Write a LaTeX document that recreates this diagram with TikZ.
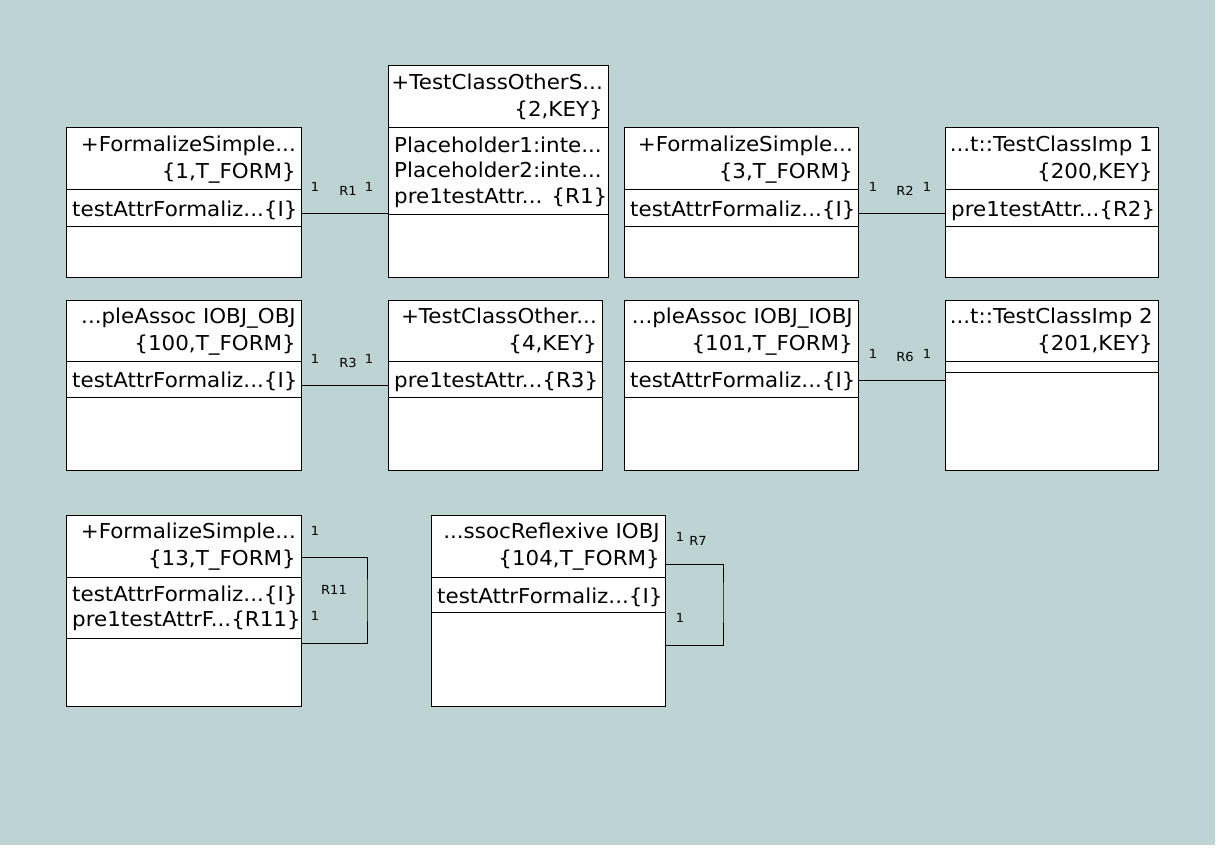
\documentclass[tikz,border=0pt]{standalone}
\usepackage{fontspec}
\setmainfont{DejaVu Sans}[FakeStretch=1.045]
\definecolor{bgteal}{RGB}{190,211,211}
\tikzstyle{cbox} = [draw, fill=white, line width=1pt, anchor=north west, inner sep=0pt, outer sep=0pt]
\tikzstyle{htext} = [anchor=north east, inner sep=0pt, xshift=-5pt, yshift=-7.95pt, align=right, font=\fontsize{20.5}{26.5}\selectfont, execute at begin node=\strut]
\tikzstyle{atext} = [anchor=north west, inner sep=0pt, xshift=6pt, yshift=-8.35pt, align=left, font=\fontsize{20.5}{25.5}\selectfont, execute at begin node=\strut]
\tikzstyle{mult} = [inner sep=0pt, font=\fontsize{12.5}{14}\selectfont]
\tikzstyle{assoc} = [line width=1pt]

\begin{document}
\begin{tikzpicture}[x=1pt, y=-1pt]
  \useasboundingbox (0,0) rectangle (1231,861);
  \fill[white] (0,0) rectangle (1231,861);
  \fill[bgteal] (0,0) rectangle (1215,845);

  % row 1
  \node[cbox, minimum width=235, minimum height=62] (c1h) at (66,128) {};
  \node[cbox, minimum width=235, minimum height=36] (c1a) at (c1h.south west) {};
  \node[cbox, minimum width=235, minimum height=51] (c1o) at (c1a.south west) {};
  \node[htext] (c1n) at (c1h.north east) {+FormalizeSimple...\\\{1,T\_FORM\}};
  \node[atext] (c1t) at (c1a.north west) {testAttrFormaliz...\{I\}};

  \node[cbox, minimum width=220, minimum height=62] (c2h) at (388,66) {};
  \node[cbox, minimum width=220, minimum height=87] (c2a) at (c2h.south west) {};
  \node[cbox, minimum width=220, minimum height=62] (c2o) at (c2a.south west) {};
  \node[htext] (c2n) at (c2h.north east) {+TestClassOtherS...\\\{2,KEY\}};
  \node[atext] (c2t) at (c2a.north west) {Placeholder1:inte...\\Placeholder2:inte...\\pre1testAttr... \{R1\}};

  \node[cbox, minimum width=234, minimum height=62] (c3h) at (624,128) {};
  \node[cbox, minimum width=234, minimum height=36] (c3a) at (c3h.south west) {};
  \node[cbox, minimum width=234, minimum height=51] (c3o) at (c3a.south west) {};
  \node[htext] (c3n) at (c3h.north east) {+FormalizeSimple...\\\{3,T\_FORM\}};
  \node[atext] (c3t) at (c3a.north west) {testAttrFormaliz...\{I\}};

  \node[cbox, minimum width=213, minimum height=62] (c4h) at (945,128) {};
  \node[cbox, minimum width=213, minimum height=36] (c4a) at (c4h.south west) {};
  \node[cbox, minimum width=213, minimum height=51] (c4o) at (c4a.south west) {};
  \node[htext] (c4n) at (c4h.north east) {...t::TestClassImp 1\\\{200,KEY\}};
  \node[atext] (c4t) at (c4a.north west) {pre1testAttr...\{R2\}};

  % row 2
  \node[cbox, minimum width=235, minimum height=61] (c5h) at (66,300) {};
  \node[cbox, minimum width=235, minimum height=36] (c5a) at (c5h.south west) {};
  \node[cbox, minimum width=235, minimum height=73] (c5o) at (c5a.south west) {};
  \node[htext] (c5n) at (c5h.north east) {...pleAssoc IOBJ\_OBJ\\\{100,T\_FORM\}};
  \node[atext] (c5t) at (c5a.north west) {testAttrFormaliz...\{I\}};

  \node[cbox, minimum width=214, minimum height=61] (c6h) at (388,300) {};
  \node[cbox, minimum width=214, minimum height=36] (c6a) at (c6h.south west) {};
  \node[cbox, minimum width=214, minimum height=73] (c6o) at (c6a.south west) {};
  \node[htext] (c6n) at (c6h.north east) {+TestClassOther...\\\{4,KEY\}};
  \node[atext] (c6t) at (c6a.north west) {pre1testAttr...\{R3\}};

  \node[cbox, minimum width=234, minimum height=61] (c7h) at (624,300) {};
  \node[cbox, minimum width=234, minimum height=36] (c7a) at (c7h.south west) {};
  \node[cbox, minimum width=234, minimum height=73] (c7o) at (c7a.south west) {};
  \node[htext] (c7n) at (c7h.north east) {...pleAssoc IOBJ\_IOBJ\\\{101,T\_FORM\}};
  \node[atext] (c7t) at (c7a.north west) {testAttrFormaliz...\{I\}};

  \node[cbox, minimum width=213, minimum height=61] (c8h) at (945,300) {};
  \node[cbox, minimum width=213, minimum height=11] (c8a) at (c8h.south west) {};
  \node[cbox, minimum width=213, minimum height=98] (c8o) at (c8a.south west) {};
  \node[htext] (c8n) at (c8h.north east) {...t::TestClassImp 2\\\{201,KEY\}};

  % row 3
  \node[cbox, minimum width=235, minimum height=62] (c9h) at (66,515) {};
  \node[cbox, minimum width=235, minimum height=61] (c9a) at (c9h.south west) {};
  \node[cbox, minimum width=235, minimum height=68] (c9o) at (c9a.south west) {};
  \node[htext] (c9n) at (c9h.north east) {+FormalizeSimple...\\\{13,T\_FORM\}};
  \node[atext] (c9t) at (c9a.north west) {testAttrFormaliz...\{I\}\\pre1testAttrF...\{R11\}};

  \node[cbox, minimum width=234, minimum height=62] (c10h) at (431,515) {};
  \node[cbox, minimum width=234, minimum height=35] (c10a) at (c10h.south west) {};
  \node[cbox, minimum width=234, minimum height=94] (c10o) at (c10a.south west) {};
  \node[htext] (c10n) at (c10h.north east) {...ssocReflexive IOBJ\\\{104,T\_FORM\}};
  \node[atext] (c10t) at (c10a.north west) {testAttrFormaliz...\{I\}};

  % associations
  \draw[assoc] ([yshift=-6pt]c1a.east) -- ([yshift=-6pt]c1a.east -| c2a.west);
  \draw[assoc] ([yshift=-6pt]c3a.east) -- ([yshift=-6pt]c3a.east -| c4a.west);
  \draw[assoc] ([yshift=-6pt]c5a.east) -- ([yshift=-6pt]c5a.east -| c6a.west);
  \draw[assoc] ([yshift=-1pt]c7a.east) -- ([yshift=-1pt]c7a.east -| c8h.west);
  \coordinate (r11c) at (367,600);
  \draw[assoc] ([yshift=-11pt]c9h.east) -| (r11c) |- ([yshift=-5pt]c9o.north east);
  \coordinate (r7c) at (723,600);
  \draw[assoc] ([yshift=-18pt]c10h.east) -| (r7c) |- ([yshift=-33pt]c10o.north east);

  % multiplicities and names
  \node[mult] (r1a) at (315,187) {1};
  \node[mult] (r1n) at (348,191) {R1};
  \node[mult] (r1b) at (369,187) {1};
  \node[mult] (r2a) at (873,187) {1};
  \node[mult] (r2n) at (905,191) {R2};
  \node[mult] (r2b) at (927,187) {1};
  \node[mult] (r3a) at (315,359) {1};
  \node[mult] (r3n) at (348,363) {R3};
  \node[mult] (r3b) at (369,359) {1};
  \node[mult] (r6a) at (873,354) {1};
  \node[mult] (r6n) at (905,357) {R6};
  \node[mult] (r6b) at (927,354) {1};
  \node[mult] (r11a) at (315,531) {1};
  \node[mult] (r11n) at (334,590) {R11};
  \node[mult] (r11b) at (315,616) {1};
  \node[mult] (r7a) at (680,537) {1};
  \node[mult] (r7n) at (698,541) {R7};
  \node[mult] (r7b) at (680,618) {1};
\end{tikzpicture}
\end{document}
